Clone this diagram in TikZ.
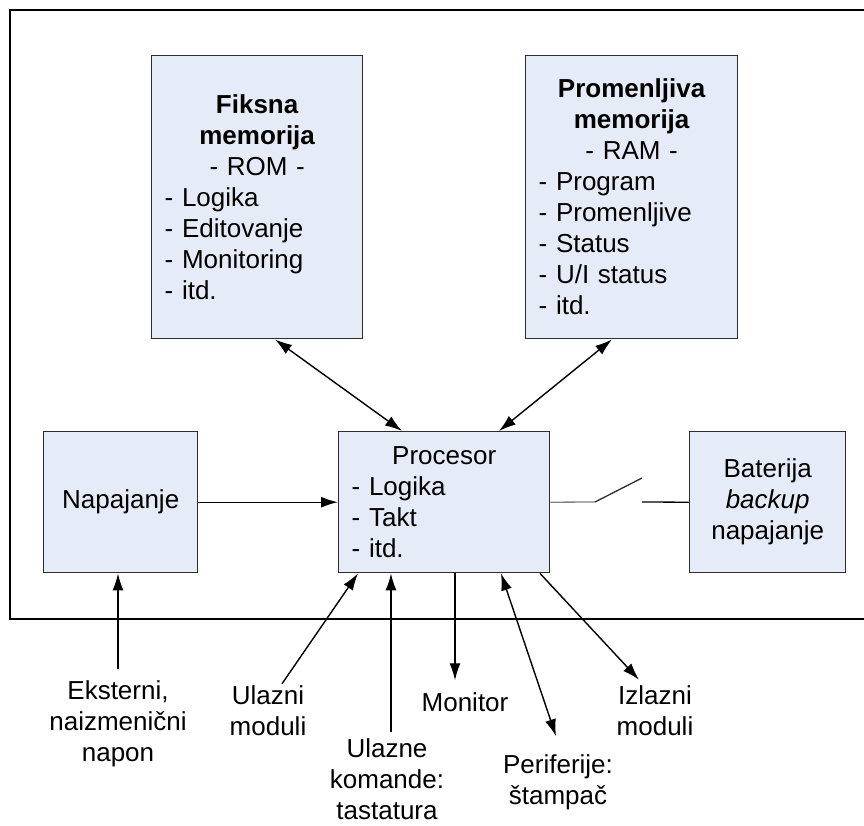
\documentclass[tikz,border=0pt]{standalone}
\usepackage{fontspec}
\setmainfont{Liberation Sans}
\usetikzlibrary{arrows.meta}
\definecolor{blokfill}{RGB}{230,236,247}
\definecolor{blokline}{RGB}{45,45,45}

\begin{document}
\begin{tikzpicture}[x=1pt,y=-1pt,
    font=\fontsize{26}{31}\selectfont,
    blok/.style={draw=blokline, line width=1.4pt, fill=blokfill, anchor=north west,
      inner xsep=13pt, inner ysep=0pt},
    veza/.style={line width=1.4pt, -{Latex[length=17pt,width=11pt]}},
    dveza/.style={line width=1.4pt, {Latex[length=17pt,width=11pt]}-{Latex[length=17pt,width=11pt]}},
    oznaka/.style={align=center, inner sep=2pt}]
    \useasboundingbox (0,0) rectangle (864,825);
    \draw[line width=1.4pt] (864,10) -- (10,10) -- (10,619) -- (864,619);
    % memorije
    \node[blok, minimum height=283pt, text width=185pt, align=left] (rom) at (151,55)
      {{\centering\textbf{Fiksna}\\\textbf{memorija}\\- ROM -\par}
       - Logika\\- Editovanje\\- Monitoring\\- itd.};
    \node[blok, minimum height=283pt, text width=186pt, align=left] (ram) at (525,55)
      {{\centering\textbf{Promenljiva}\\\textbf{memorija}\\- RAM -\par}
       - Program\\- Promenljive\\- Status\\- U/I status\\- itd.};
    % srednji red
    \node[blok, minimum height=141pt, text width=128pt, align=center] (napajanje) at (43,431) {Napajanje};
    \node[blok, minimum height=141pt, text width=185pt, align=left] (procesor) at (338,431)
      {{\centering Procesor\par}- Logika\\- Takt\\- itd.};
    \node[blok, minimum height=141pt, text width=130pt, align=center] (baterija) at (689,431)
      {Baterija\\\textit{backup}\\napajanje};
    % spoljni elementi
    \node[oznaka] (eksterni) at (118,724) {Eksterni,\\naizmenični\\napon};
    \node[oznaka] (ulazni) at (268,711) {Ulazni\\moduli};
    \node[oznaka] (komande) at (387,779) {Ulazne\\komande:\\tastatura};
    \node[oznaka] (monitor) at (465,702) {Monitor};
    \node[oznaka] (periferije) at (558,782) {Periferije:\\štampač};
    \node[oznaka] (izlazni) at (655,711) {Izlazni\\moduli};
    % prekidac
    \coordinate (prek1) at (595,502);
    \coordinate (prek2) at (642,478);
    \coordinate (prek3) at (642,502);
    % veze
    \draw[dveza] ([xshift=124pt]rom.south west) -- ([xshift=64pt]procesor.north west);
    \draw[dveza] ([xshift=87pt]ram.south west) -- ([xshift=161pt]procesor.north west);
    \draw[veza] (napajanje.east) -- (procesor.west);
    \draw[line width=1.3pt, gray] (procesor.east) -- (prek1);
    \draw[line width=1.3pt, blokline] (prek1) -- (prek2);
    \draw[line width=1.3pt] (prek3) -- (baterija.west);
    \draw[veza] ([yshift=10pt]eksterni.north) -- (eksterni.north |- napajanje.south);
    \draw[veza] ([xshift=14pt]ulazni.north) -- ([xshift=20pt]procesor.south west);
    \draw[veza] ([xshift=4pt,yshift=4pt]komande.north) -- ([xshift=53pt]procesor.south west);
    \draw[veza] ([xshift=117pt]procesor.south west) -- ([xshift=-10pt,yshift=10pt]monitor.north);
    \draw[dveza] ([xshift=163pt]procesor.south west) -- ([xshift=-2pt,yshift=16pt]periferije.north);
    \draw[veza] ([xshift=202pt]procesor.south west) -- ([xshift=-16pt,yshift=4pt]izlazni.north);
\end{tikzpicture}
\end{document}
